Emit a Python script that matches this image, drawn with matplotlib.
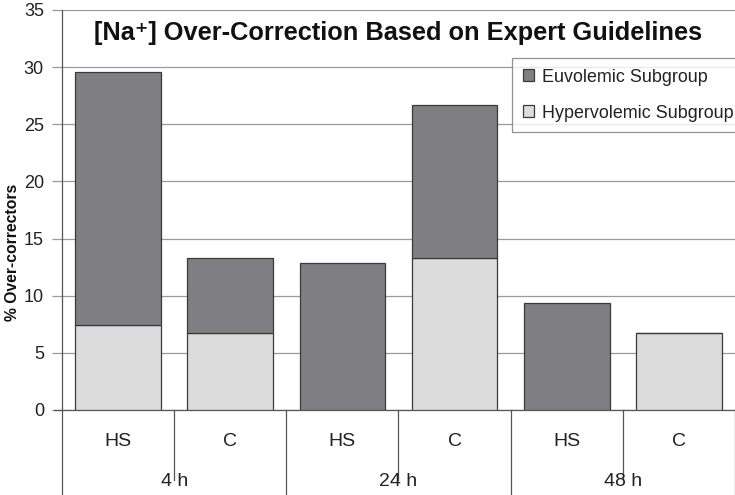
import matplotlib
matplotlib.use("Agg")
import matplotlib.pyplot as plt
import numpy as np

plt.rcParams['font.family'] = ['Liberation Sans', 'DejaVu Sans']

groups = ["4 h", "24 h", "48 h"]
subgroups = ["HS", "C", "HS", "C", "HS", "C"]
hypervolemic = [7.4, 6.7, 0.0, 13.3, 0.0, 6.7]
euvolemic = [22.2, 6.6, 12.9, 13.4, 9.4, 0.0]
yticks = [0, 5, 10, 15, 20, 25, 30, 35]

dark = "#7f7f83"
light = "#dcdcdc"
edge = "#3a3a3a"

fig = plt.figure(figsize=(7.35, 4.95), dpi=100)
ax = fig.add_axes([62/735, 1-410/495, 1-62/735, 400/495])

x = np.arange(len(subgroups))
w = 0.765
ax.bar(x, hypervolemic, w, color=light, edgecolor=edge, linewidth=0.9,
       label="Hypervolemic Subgroup", zorder=3)
ax.bar(x, euvolemic, w, bottom=hypervolemic, color=dark, edgecolor=edge,
       linewidth=0.9, label="Euvolemic Subgroup", zorder=3)

ax.set_xlim(-0.5, len(subgroups)-0.5)
ax.set_ylim(0, 35)
ax.set_yticks(yticks)
ax.set_yticklabels([str(v) for v in yticks], fontsize=13, color="#222222")
ax.yaxis.grid(True, color="#9a9a9a", linewidth=0.9, zorder=0)
ax.tick_params(axis='y', length=7, width=0.9, color="#9a9a9a", pad=6)
ax.set_xticks([])
for s in ["top", "right"]:
    ax.spines[s].set_visible(False)
ax.spines["left"].set_color("#555555")
ax.spines["bottom"].set_color("#555555")
ax.spines["left"].set_linewidth(0.9)
ax.spines["bottom"].set_linewidth(0.9)
ax.spines["left"].set_zorder(4)

fig.text(13/735, 1-252/495, "% Over-correctors", fontsize=11.3,
         fontweight="bold", rotation=90, ha="center", va="center",
         color="#111111")

ax.set_title("[Na⁺] Over-Correction Based on Expert Guidelines",
             fontsize=18.3, fontweight="bold", y=0.903, color="#111111")

# two-level x labels
trans = ax.get_xaxis_transform()
for i, lab in enumerate(subgroups):
    ax.text(i, -0.08, lab, transform=trans, ha="center", va="center",
            fontsize=14, color="#222222")
for g, lab in enumerate(groups):
    ax.text(2*g+0.5, -0.18, lab, transform=trans, ha="center", va="center",
            fontsize=14, color="#222222")
# separators
for b in range(0, 7):
    xb = b - 0.5
    if b % 2 == 0:
        ax.plot([xb, xb], [0, -85/400], transform=trans, color="#555555",
                linewidth=0.9, clip_on=False)
    else:
        ax.plot([xb, xb], [0, -70/400], transform=trans, color="#555555",
                linewidth=0.9, clip_on=False)
ax.plot([-0.57, -0.5], [0, 0], transform=trans, color="#555555",
        linewidth=0.9, clip_on=False)

handles, labels = ax.get_legend_handles_labels()
leg = ax.legend(handles[::-1], labels[::-1], loc="upper left",
                bbox_to_anchor=(450/673, 352/400), fontsize=12.9, frameon=True,
                fancybox=False, edgecolor="#777777", labelspacing=1.05,
                handlelength=0.65, handleheight=0.65, handletextpad=0.4,
                borderpad=0.6, borderaxespad=0.0)
leg.get_frame().set_linewidth(0.9)
for t in leg.get_texts():
    t.set_color("#222222")

fig.savefig("out.png", dpi=100)
